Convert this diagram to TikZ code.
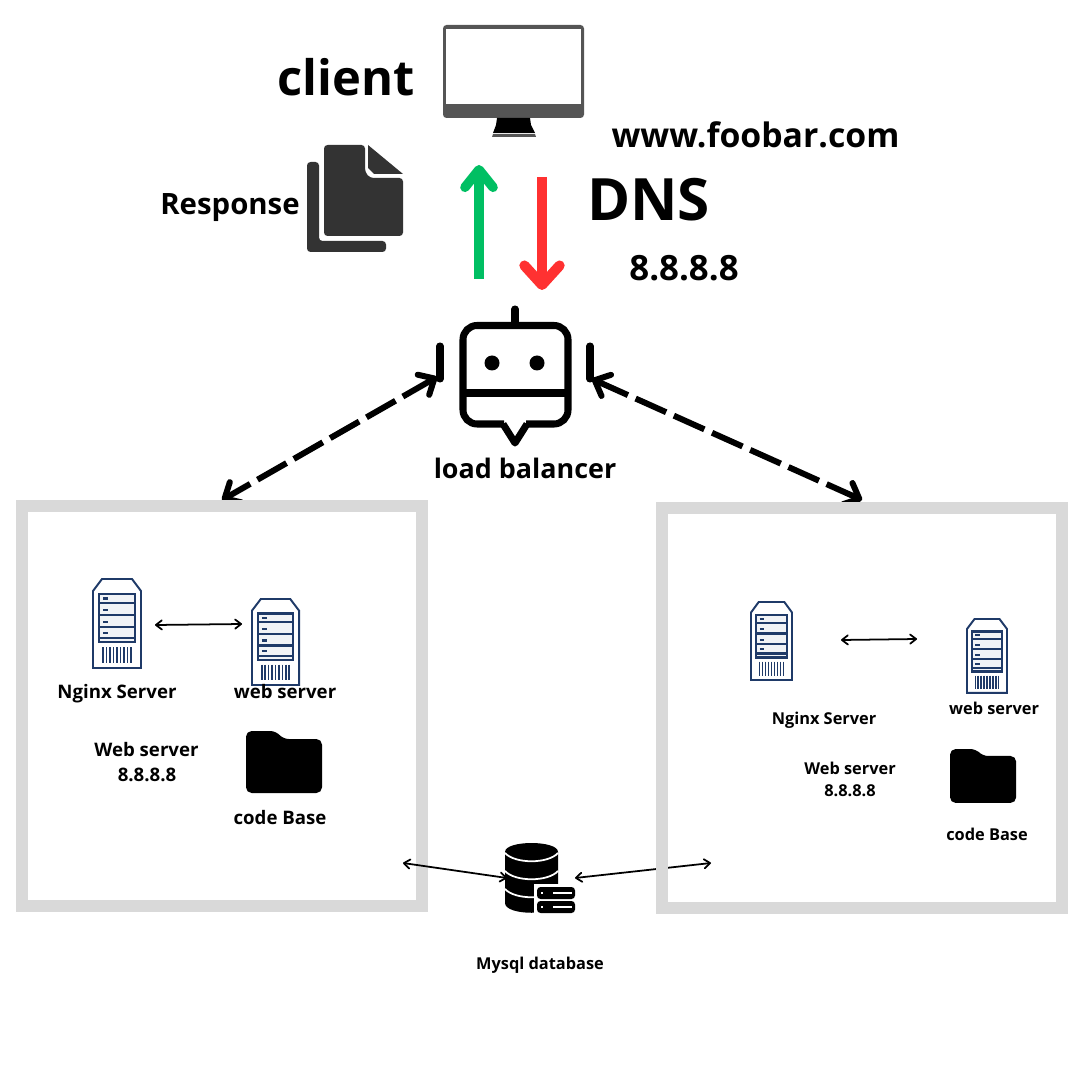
\documentclass[tikz,border=0pt]{standalone}
\usepackage{fontspec}
\setmainfont{Open Sans}
\usetikzlibrary{arrows.meta}
\definecolor{boxgray}{HTML}{D9D9D9}
\definecolor{srvblue}{HTML}{1F3A68}
\definecolor{srvfill}{HTML}{F1F3F6}
\definecolor{upgreen}{HTML}{00BF63}
\definecolor{downred}{HTML}{FF3131}
\definecolor{screen}{HTML}{555555}
\definecolor{paper}{HTML}{333333}
\tikzset{
	lbl/.style={font=\bfseries\fontsize{#1}{#1}\selectfont,inner sep=0pt},
	box/.style={draw=boxgray,line width=3.41pt},
	uptip/.style={-{Straight Barb[length=5pt,width=8pt,round]},line width=2.7pt},
	downtip/.style={-{Straight Barb[length=5.5pt,width=10pt,round]},line width=2.9pt},
	dashlink/.style={{Straight Barb[length=3.6pt,width=6.6pt,round]}-{Straight Barb[length=3.6pt,width=6.6pt,round]},line width=1.7pt,dash pattern=on 9.5pt off 2.4pt},
	thinlink/.style={{Straight Barb[length=1.7pt,width=2.6pt,round]}-{Straight Barb[length=1.7pt,width=2.6pt,round]},line width=.5pt},
	serverpic/.pic={
		\draw [srvblue,fill=white,line width=.55pt] (0,89) -- (0,12) -- (9,0) -- (39,0) -- (48,12) -- (48,89) -- cycle;
		\draw [srvblue,fill=srvfill,line width=.75pt] (6,15) rectangle (42,63);
		\foreach \r in {24,36,48,59} \draw [srvblue,line width=.7pt] (6,\r) -- (42,\r);
		\foreach \r in {19.5,31,43,54} \draw [srvblue,line width=.6pt] (10,\r) -- (15,\r);
		\foreach \v in {10,13.5,...,38.5} \draw [srvblue,line width=.45pt] (\v,68) -- (\v,84);
	},
	folderpic/.pic={
		\fill [black,rounded corners=1.6pt] (0,0) -- (30,0) -- (37,8) -- (76,8) -- (76,62) -- (0,62) -- cycle;
	}
}
\begin{document}
\begin{tikzpicture}[x=0.01cm,y=-0.01cm]
	\useasboundingbox (0,0) rectangle (1080,1080);
	% Monitor
	\fill [screen,rounded corners=1pt] (443,25) rectangle (584,118);
	\fill [white] (446,29) rectangle (581,104);
	\fill [black] (497,118) -- (530,118) -- (531,125) -- (535,133) -- (493,133) -- (496,125) -- cycle;
	\fill [screen] (493,134) -- (535,134) -- (536,137) -- (492,137) -- cycle;
	% Dokumente
	\fill [paper,rounded corners=1pt] (307,162) -- (319,162) -- (319,241) -- (386,241) -- (386,252) -- (307,252) -- cycle;
	\fill [paper,rounded corners=1pt] (324,145) -- (365,145) -- (365,172) -- (370,178) -- (403,178) -- (403,236) -- (324,236) -- cycle;
	\fill [paper] (368,145) -- (403,174) -- (374,174) -- (368,168) -- cycle;
	% Load balancer
	\draw [line width=2pt,rounded corners=4pt] (504,424) -- (463,424) -- (463,325.5) -- (568,325.5) -- (568,424) -- (526,424);
	\draw [line width=2pt,line join=round] (503,424) -- (515,443) -- (527,424);
	\draw [line width=2pt] (463,393) -- (568,393);
	\draw [line width=2pt,line cap=round] (515,309) -- (515,325);
	\fill (492,363) circle (7.5) (537,363) circle (7.5);
	\draw [line width=2pt,line cap=round] (440,346) -- (440,379);
	\draw [line width=2pt,line cap=round] (590,346) -- (590,379);
	% Datenbank
	\fill (505,852) .. controls (505,840) and (558,840) .. (558,852) -- (558,903) .. controls (558,916) and (505,916) .. (505,903) -- cycle;
	\foreach \h in {853,871,889} \draw [white,line width=.5pt] (505,\h) .. controls (515,\h+11) and (548,\h+11) .. (558,\h);
	\fill [white] (534,884) rectangle (578,916);
	\foreach \h in {887,901} {
		\fill [rounded corners=1pt] (537,\h) rectangle (575,\h+12);
		\fill [white] (541,\h+5) rectangle (543,\h+7);
		\fill [white] (553,\h+5) rectangle (572,\h+7);
	}
	% Koordinaten fuer die Pfeile
	\coordinate (greenfoot) at (479,279);
	\coordinate (greenhead) at (479,165);
	\coordinate (redfoot) at (542,177);
	\coordinate (redhead) at (542,290);
	\coordinate (lbleft) at (437,377);
	\coordinate (lbright) at (592,379);
	\coordinate (boxleft) at (222,500);
	\coordinate (boxright) at (862,500);
	\coordinate (ngxleft) at (155,625);
	\coordinate (webleft) at (242,624);
	\coordinate (ngxright) at (841,640);
	\coordinate (webright) at (917,639);
	\coordinate (dbleft) at (507,878);
	\coordinate (dbright) at (575,878);
	\coordinate (sqlleft) at (403,863);
	\coordinate (sqlright) at (711,863);
	% Pfeile
	\draw [uptip,upgreen] (greenfoot) -- (greenhead);
	\draw [downtip,downred] (redfoot) -- (redhead);
	\draw [dashlink] (lbleft) -- (boxleft);
	\draw [dashlink] (lbright) -- (boxright);
	\draw [thinlink] (ngxleft) -- (webleft);
	\draw [thinlink] (ngxright) -- (webright);
	\draw [thinlink] (dbright) -- (sqlright);
	% Kaesten
	\draw [box] (22,506) rectangle (422,906);
	\draw [box] (662,508) rectangle (1062,908);
	\draw [thinlink] (sqlleft) -- (dbleft);
	% Server und Ordner
	\pic at (93,579) {serverpic};
	\pic [yscale=.966,xscale=.98] at (252,599) {serverpic};
	\pic [yscale=.876,xscale=.854] at (751,602) {serverpic};
	\pic [yscale=.831,xscale=.833] at (967,619) {serverpic};
	\pic at (246,731) {folderpic};
	\pic [xscale=.87,yscale=.87] at (950,749) {folderpic};
	% Beschriftung
	\node [lbl=13.9pt] (client) at (346,77) {client};
	\node [lbl=8.35pt] (response) at (230,208) {Response};
	\node [lbl=9.6pt] (www) at (755.5,135) {www.foobar.com};
	\node [lbl=16.6pt] (dns) at (648.5,200) {DNS};
	\node [lbl=9.9pt] (dnsip) at (684,268) {8.8.8.8};
	\node [lbl=7.65pt] (balancer) at (525,468) {load balancer};
	\node [lbl=5.3pt] (ngxa) at (117,694) {Nginx Server};
	\node [lbl=5.3pt] (weba) at (285,692) {web server};
	\node [lbl=5.3pt] (sitea) at (146.5,750) {Web server};
	\node [lbl=5.3pt] (ipa) at (147,775) {8.8.8.8};
	\node [lbl=5.3pt] (codea) at (280,818) {code Base};
	\node [lbl=4.65pt] (ngxb) at (824,720) {Nginx Server};
	\node [lbl=4.65pt] (webb) at (994,708) {web server};
	\node [lbl=4.65pt] (siteb) at (850,768) {Web server};
	\node [lbl=4.65pt] (ipb) at (850,791) {8.8.8.8};
	\node [lbl=4.65pt] (codeb) at (987,834) {code Base};
	\node [lbl=4.65pt] (mysql) at (540,965) {Mysql database};
\end{tikzpicture}
\end{document}
